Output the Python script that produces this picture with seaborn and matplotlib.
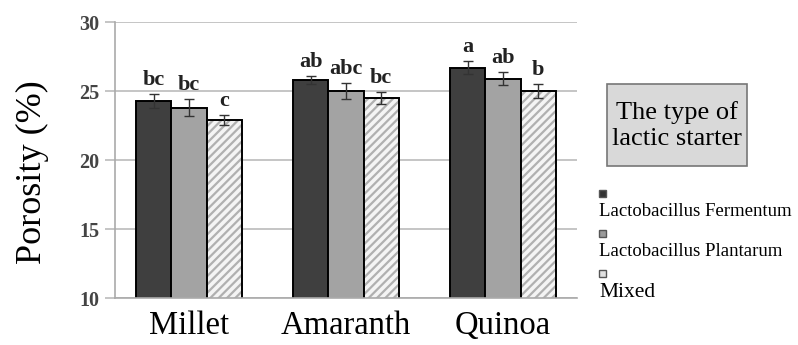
import matplotlib
matplotlib.use("Agg")
import matplotlib.pyplot as plt
import seaborn as sns
import pandas as pd
import numpy as np
from matplotlib.patches import Rectangle

grains = ["Millet", "Amaranth", "Quinoa"]
starters = ["Lactobacillus Fermentum", "Lactobacillus Plantarum", "Mixed"]
fermentum = [24.3, 25.8, 26.7]
plantarum = [23.8, 25.0, 25.9]
mixed = [22.9, 24.5, 25.0]
err_fermentum = [0.5, 0.3, 0.45]
err_plantarum = [0.6, 0.55, 0.45]
err_mixed = [0.35, 0.45, 0.5]
letters_fermentum = ["bc", "ab", "a"]
letters_plantarum = ["bc", "abc", "ab"]
letters_mixed = ["c", "bc", "b"]
yticks = [10, 15, 20, 25, 30]

rows = []
for s, vals in zip(starters, [fermentum, plantarum, mixed]):
    for g, v in zip(grains, vals):
        rows.append({"grain": g, "starter": s, "value": v})
df = pd.DataFrame(rows)

sns.set_theme(style="white")
plt.rcParams["font.family"] = ["Liberation Serif", "DejaVu Serif"]
plt.rcParams["hatch.linewidth"] = 1.6

fig = plt.figure(figsize=(7.98, 3.45), dpi=100)
ax = fig.add_axes([0.144, 0.136, 0.579, 0.800])

face = ["#3f3f3f", "#a3a3a3", "#ffffff"]
sns.barplot(data=df, x="grain", y="value", hue="starter", hue_order=starters,
            order=grains, width=0.675, errorbar=None, ax=ax,
            palette=face, legend=False, saturation=1)

errs = [err_fermentum, err_plantarum, err_mixed]
labs = [letters_fermentum, letters_plantarum, letters_mixed]
bar_conts = list(ax.containers)
for i, cont in enumerate(bar_conts):
    for j, p in enumerate(cont.patches):
        p.set_edgecolor("black")
        p.set_linewidth(1.4)
        if i == 2:
            p.set_facecolor("#f4f4f4")
            p.set_hatch("////")
            p.set_edgecolor("#b0b0b0")
            p.set_linewidth(0)
            ax.add_patch(Rectangle((p.get_x(), p.get_y()), p.get_width(), p.get_height(),
                                   facecolor="none", edgecolor="black", linewidth=1.4, zorder=p.get_zorder() + 0.1))
        xc = p.get_x() + p.get_width() / 2
        h = p.get_height()
        ax.errorbar(xc, h, yerr=errs[i][j], fmt="none", ecolor="#333333",
                    elinewidth=1.0, capsize=3.5, capthick=1.0, zorder=5)
        ax.text(xc, h + errs[i][j] + 0.3, labs[i][j], ha="center", va="bottom",
                fontsize=16, fontweight="bold", color="#222222")

ax.set_ylim(10, 30)
ax.set_yticks(yticks)
ax.set_yticklabels([str(t) for t in yticks], fontsize=14.5, fontweight="bold", color="#444444")
ax.yaxis.grid(True, color="#bbbbbb", linewidth=1.2)
ax.set_axisbelow(True)
ax.tick_params(axis="y", length=7, color="#bbbbbb", width=1.2, pad=4, left=True)
ax.tick_params(axis="x", length=0, labelsize=23.5, pad=9)
for lab in ax.get_xticklabels():
    lab.set_color("black")
ax.set_xlabel("")
ax.set_ylabel("Porosity (%)", fontsize=26, color="black", va="center")
ax.yaxis.set_label_coords(-0.178, 0.457)
for s in ["top", "right"]:
    ax.spines[s].set_visible(False)
ax.spines["left"].set_color("#aaaaaa")
ax.spines["bottom"].set_color("#aaaaaa")
ax.spines["left"].set_linewidth(1.2)
ax.spines["bottom"].set_linewidth(1.2)

# legend title box
fig.patches.append(Rectangle((0.7607, 0.519), 0.1754, 0.238, transform=fig.transFigure,
                             facecolor="#d9d9d9", edgecolor="#777777", linewidth=1.2))
fig.text(0.848, 0.636, "The type of\nlactic starter", ha="center", va="center",
         fontsize=19, linespacing=1.2, color="black")

leg_sq = [0.429, 0.313, 0.197]
leg_txt = [0.412, 0.296, 0.180]
leg_fs = [13.5, 13.5, 15.5]
for k, (s, c) in enumerate(zip(starters, ["#333333", "#9a9a9a", "#e0e0e0"])):
    fig.patches.append(Rectangle((0.7506, leg_sq[k]), 0.0085, 0.02, transform=fig.transFigure,
                                 facecolor=c, edgecolor="#555555", linewidth=1.0))
    fig.text(0.7506, leg_txt[k], s, ha="left", va="top", fontsize=leg_fs[k], color="black")

fig.savefig("out.png", dpi=100)
